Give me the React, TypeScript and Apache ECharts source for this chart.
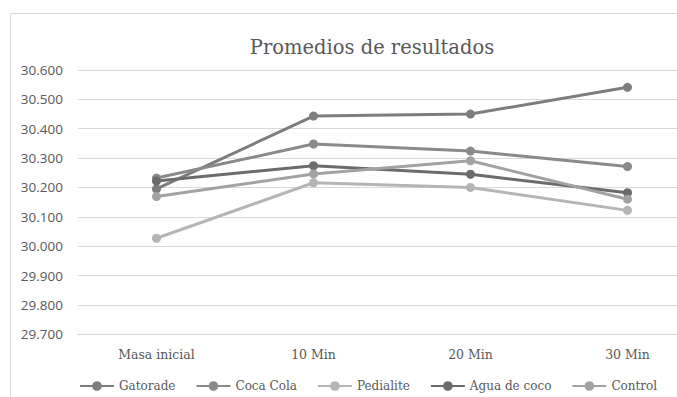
import React, { useEffect, useRef } from "react";
import * as echarts from "echarts";

// Measurement stages (x axis)
const categories = ["Masa inicial", "10 Min", "20 Min", "30 Min"];

// Average mass per drink at each stage
const gatorade = [30.195, 30.443, 30.45, 30.541];
const cocaCola = [30.232, 30.348, 30.324, 30.271];
const pedialite = [30.027, 30.216, 30.2, 30.122];
const aguaDeCoco = [30.222, 30.274, 30.245, 30.182];
const control = [30.169, 30.246, 30.291, 30.16];

const seriesNames = ["Gatorade", "Coca Cola", "Pedialite", "Agua de coco", "Control"];
const seriesData = [gatorade, cocaCola, pedialite, aguaDeCoco, control];
const seriesColors = ["#7d7d7d", "#8a8a8a", "#b5b5b5", "#6b6b6b", "#a2a2a2"];

const titleText = "Promedios de resultados";

export default function App() {
  const ref = useRef<HTMLDivElement>(null);

  useEffect(() => {
    if (!ref.current) return;
    const chart = echarts.init(ref.current, undefined, { renderer: "svg" });
    const textColor = "#595959";
    const serif = "DejaVu Serif";

    chart.setOption({
      animation: false,
      backgroundColor: "#ffffff",
      title: {
        text: titleText,
        left: 367,
        top: 32,
        textAlign: "center",
        textStyle: {
          fontFamily: serif,
          fontSize: 19.5,
          fontWeight: "normal",
          color: textColor,
        },
      },
      graphic: [
        {
          type: "rect",
          shape: { x: 10.5, y: 13.5, width: 900, height: 600 },
          style: { fill: "none", stroke: "#d9d9d9", lineWidth: 1 },
          silent: true,
        },
      ],
      legend: {
        left: 79,
        top: 380,
        width: 640,
        padding: 0,
        itemWidth: 34,
        itemHeight: 12,
        itemGap: 20,
        textStyle: { fontFamily: serif, fontSize: 12, color: textColor },
        data: seriesNames,
      },
      grid: {
        left: 78,
        width: 628,
        top: 70,
        bottom: 62.7,
        outerBoundsMode: "none",
      },
      xAxis: {
        type: "category",
        data: categories,
        boundaryGap: true,
        axisTick: { show: false },
        axisLine: { show: true, lineStyle: { color: "#d9d9d9", width: 1 } },
        axisLabel: {
          color: textColor,
          fontFamily: serif,
          fontSize: 12.5,
          margin: 14,
        },
      },
      yAxis: {
        type: "value",
        min: 29.7,
        max: 30.6,
        interval: 0.1,
        axisLine: { show: false },
        axisTick: { show: false },
        splitLine: { lineStyle: { color: "#d9d9d9", width: 1 } },
        axisLabel: {
          color: textColor,
          fontFamily: "Open Sans",
          fontSize: 13.5,
          margin: 15,
          formatter: (v: number) => v.toFixed(3),
        },
      },
      series: seriesNames.map((name, i) => ({
        name,
        type: "line",
        data: seriesData[i],
        symbol: "circle",
        symbolSize: 9,
        itemStyle: { color: seriesColors[i] },
        lineStyle: { color: seriesColors[i], width: 3 },
      })),
    });

    return () => chart.dispose();
  }, []);

  return (
    <div
      ref={ref}
      style={{ position: "fixed", left: 0, top: 0, width: 677, height: 397 }}
    />
  );
}
